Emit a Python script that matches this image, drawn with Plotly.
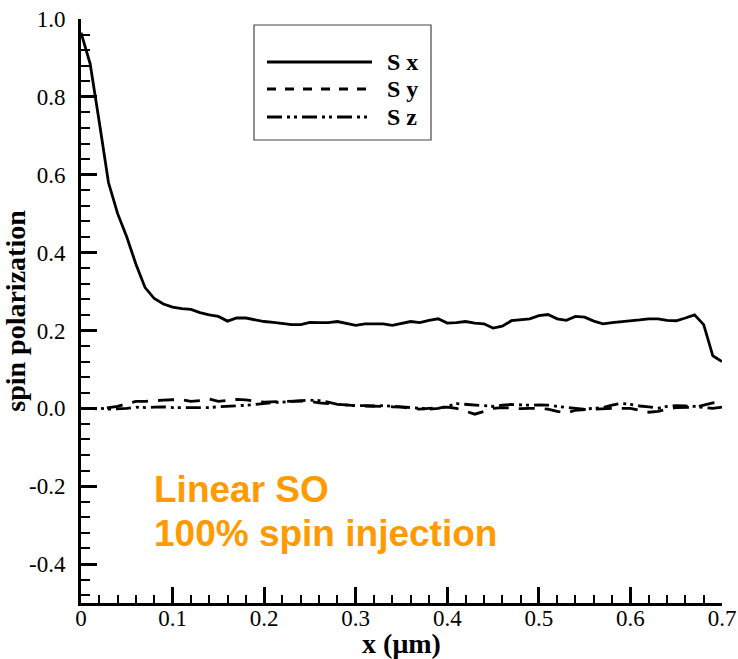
import plotly.graph_objects as go

# ---------------- data ----------------
x_um = [round(i * 0.01, 2) for i in range(71)]

sx = [0.965, 0.885, 0.735, 0.580, 0.500, 0.440, 0.370, 0.310, 0.282, 0.268,
      0.260, 0.256, 0.254, 0.246, 0.240, 0.236, 0.224, 0.232, 0.232, 0.228,
      0.223, 0.221, 0.218, 0.215, 0.215, 0.221, 0.220, 0.220, 0.223, 0.218,
      0.213, 0.217, 0.217, 0.217, 0.213, 0.218, 0.223, 0.220, 0.226, 0.230,
      0.219, 0.220, 0.223, 0.219, 0.217, 0.206, 0.211, 0.225, 0.227, 0.230,
      0.238, 0.241, 0.230, 0.226, 0.236, 0.234, 0.224, 0.217, 0.220, 0.222,
      0.224, 0.227, 0.230, 0.230, 0.226, 0.225, 0.232, 0.240, 0.215, 0.135,
      0.120]

sy = [0.000, 0.000, -0.002, 0.002, 0.005, 0.012, 0.018, 0.018, 0.020, 0.021,
      0.022, 0.022, 0.018, 0.020, 0.024, 0.018, 0.020, 0.023, 0.022, 0.018,
      0.016, 0.017, 0.017, 0.018, 0.019, 0.018, 0.014, 0.012, 0.010, 0.008,
      0.007, 0.006, 0.006, 0.005, 0.004, 0.003, 0.000, -0.002, 0.000, 0.002,
      0.003, 0.000, -0.008, -0.015, -0.008, 0.000, 0.002, 0.000, -0.001, 0.000,
      0.000, -0.002, -0.008, -0.012, -0.005, -0.003, -0.002, 0.000, 0.000, 0.000,
      0.000, -0.005, -0.010, -0.008, -0.002, 0.002, 0.003, 0.003, 0.008, 0.014,
      0.016]

sz = [0.000, 0.000, 0.000, -0.002, -0.001, 0.000, 0.003, 0.002, 0.003, 0.004,
      0.002, 0.002, 0.003, 0.002, 0.002, 0.004, 0.005, 0.006, 0.008, 0.010,
      0.013, 0.015, 0.016, 0.018, 0.020, 0.021, 0.020, 0.016, 0.010, 0.008,
      0.007, 0.007, 0.006, 0.007, 0.006, 0.004, 0.002, 0.000, -0.002, 0.000,
      0.005, 0.012, 0.010, 0.008, 0.006, 0.005, 0.008, 0.010, 0.009, 0.008,
      0.009, 0.008, 0.005, 0.002, 0.000, -0.002, 0.000, 0.002, 0.008, 0.013,
      0.010, 0.006, 0.004, 0.000, 0.005, 0.007, 0.006, 0.005, 0.002, 0.000,
      0.003]

series_names = ["S x", "S y", "S z"]
x_ticks = [0, 0.1, 0.2, 0.3, 0.4, 0.5, 0.6, 0.7]
x_tick_labels = ["0", "0.1", "0.2", "0.3", "0.4", "0.5", "0.6", "0.7"]
y_ticks = [-0.4, -0.2, 0.0, 0.2, 0.4, 0.6, 0.8, 1.0]
y_tick_labels = ["-0.4", "-0.2", "0.0", "0.2", "0.4", "0.6", "0.8", "1.0"]
note_lines = ["Linear SO", "100% spin injection"]

# ---------------- layout geometry ----------------
W, H = 738, 659
L, R, T, B = 81, 16, 19, 56
PW, PH = W - L - R, H - T - B


def px(xp):
    return (xp - L) / PW


def py(yp):
    return (H - B - yp) / PH


dash_styles = ["solid", "dash", "15px,5px,3px,4px,3px,5px"]
dash_plot = ["solid", "16px,10px", "15px,5px,3px,4px,3px,5px"]
series = [sx, sy, sz]

fig = go.Figure()
for name, ys, d in zip(series_names, series, dash_plot):
    fig.add_trace(go.Scatter(x=x_um, y=ys, mode="lines", name=name,
                             line=dict(color="black", width=2.8, dash=d),
                             showlegend=False))

serif = "Liberation Serif"
axis_common = dict(showline=True, linecolor="black", linewidth=3, mirror=False,
                   ticks="inside", ticklen=16, tickwidth=3, tickcolor="black",
                   showgrid=False, zeroline=False,
                   tickfont=dict(family=serif, size=23, color="black"))

fig.update_xaxes(range=[0, 0.7], tickvals=x_ticks, ticktext=x_tick_labels,
                 minor=dict(ticks="inside", ticklen=8, tickwidth=2,
                            tickcolor="black", dtick=0.02, tick0=0),
                 title=dict(text="<b>x (μm)</b>",
                            font=dict(family=serif, size=28, color="black"),
                            standoff=1),
                 ticklabelstandoff=-8,
                 **axis_common)
fig.update_yaxes(range=[-0.5, 1.0], tickvals=y_ticks, ticktext=y_tick_labels,
                 minor=dict(ticks="inside", ticklen=9, tickwidth=2,
                            tickcolor="black", dtick=0.04, tick0=0),
                 title=dict(text="<b>spin polarization</b>",
                            font=dict(family=serif, size=28, color="black"),
                            standoff=2),
                 ticklabelstandoff=8,
                 **axis_common)

# manual legend (box, line samples, labels)
shapes = [dict(type="rect", xref="paper", yref="paper",
               x0=px(254), x1=px(431), y0=py(140), y1=py(25),
               line=dict(color="#444444", width=1.2), fillcolor="white",
               layer="below")]
annotations = []
leg_y = [62, 89, 117]
for name, d, yy in zip(series_names, dash_styles, leg_y):
    shapes.append(dict(type="line", xref="paper", yref="paper",
                       x0=px(267), x1=px(372), y0=py(yy), y1=py(yy),
                       line=dict(color="black", width=3, dash=d)))
    annotations.append(dict(xref="paper", yref="paper", x=px(385), y=py(yy),
                            xanchor="left", yanchor="middle", showarrow=False,
                            text="<b>%s</b>" % name,
                            font=dict(family=serif, size=24, color="black")))

for line, yy in zip(note_lines, [490, 533]):
    annotations.append(dict(xref="paper", yref="paper", x=px(152), y=py(yy),
                            xanchor="left", yanchor="middle", showarrow=False,
                            text="<b>%s</b>" % line,
                            font=dict(family="Liberation Sans", size=37,
                                      color="#FF9A00")))

fig.update_layout(width=W, height=H,
                  margin=dict(l=L, r=R, t=T, b=B, autoexpand=False),
                  paper_bgcolor="white", plot_bgcolor="white",
                  shapes=shapes, annotations=annotations)

fig.write_html("out.html")
